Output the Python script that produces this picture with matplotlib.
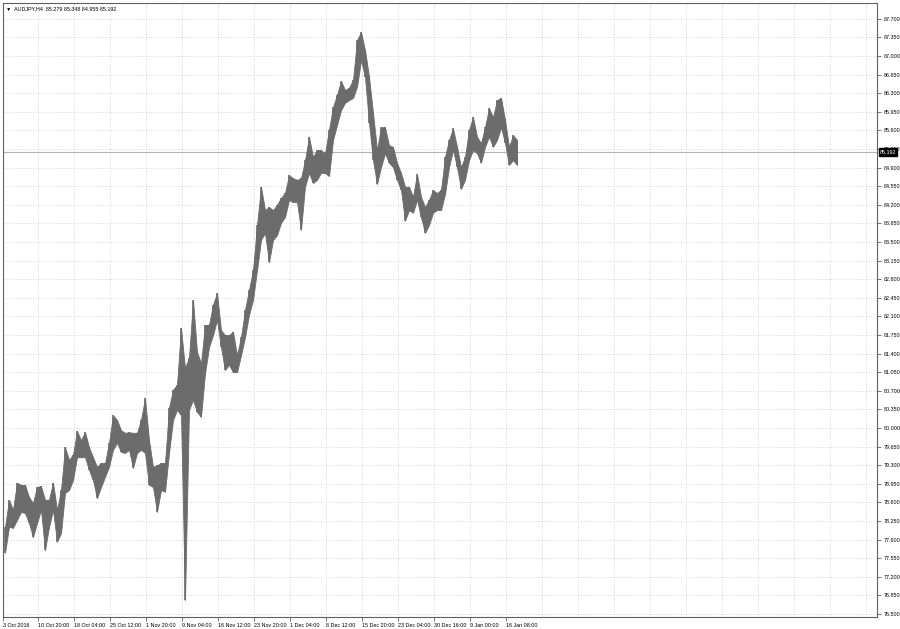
import matplotlib
matplotlib.use("Agg")
import matplotlib.pyplot as plt
import matplotlib.transforms as mtransforms
import numpy as np

# AUDJPY H4, values (each entry = a group of 4 H4 bars)
symbol = "AUDJPY,H4"
last_ohlc = [85.279, 85.348, 84.955, 85.192]

highs = [78.14, 78.65, 78.46, 78.97, 78.93, 78.93, 78.70, 78.59, 78.89, 78.91,
         78.65, 78.65, 78.97, 78.46, 78.83, 79.64, 79.40, 79.50, 79.94, 79.77,
         79.92, 79.64, 79.45, 79.27, 79.34, 79.34, 79.72, 80.24, 80.15, 79.96,
         79.91, 79.92, 79.91, 79.91, 80.15, 80.56, 79.77, 79.27, 79.30, 79.34,
         79.34, 80.38, 80.72, 80.81, 81.88, 81.13, 81.32, 82.41, 81.43, 81.22,
         81.94, 81.94, 82.32, 82.54, 81.84, 81.75, 81.75, 81.81, 81.37, 81.71,
         82.22, 82.60, 82.97, 83.82, 84.54, 84.10, 84.16, 84.10, 84.20, 84.33,
         84.42, 84.76, 84.70, 84.67, 84.70, 85.04, 85.48, 85.10, 85.23, 85.23,
         85.17, 85.61, 86.04, 86.27, 86.53, 86.36, 86.40, 86.55, 87.30, 87.45,
         87.11, 86.61, 85.93, 85.23, 85.66, 85.66, 85.32, 85.29, 84.99, 84.80,
         84.54, 84.54, 84.35, 84.78, 84.35, 84.16, 84.29, 84.48, 84.42, 84.48,
         85.10, 85.42, 85.64, 85.29, 84.91, 85.10, 85.61, 85.85, 85.48, 85.36,
         85.66, 86.02, 85.85, 86.17, 86.21, 85.80, 85.29, 85.51, 85.42]
lows = [77.65, 78.14, 78.12, 78.27, 78.42, 78.40, 78.21, 77.95, 78.21, 78.46,
        77.70, 78.14, 78.46, 77.86, 78.02, 78.78, 78.83, 79.02, 79.45, 79.45,
        79.45, 79.21, 79.02, 78.68, 78.89, 79.08, 79.27, 79.59, 79.72, 79.55,
        79.53, 79.59, 79.25, 79.53, 79.59, 79.53, 78.93, 78.89, 78.42, 78.83,
        78.80, 79.53, 80.15, 80.34, 80.24, 76.76, 80.34, 80.53, 80.30, 80.21,
        81.03, 81.52, 81.75, 82.03, 81.52, 81.09, 81.19, 81.05, 81.05, 81.37,
        81.71, 82.13, 82.41, 82.97, 83.54, 83.67, 83.12, 83.54, 83.63, 83.86,
        83.97, 84.29, 84.25, 84.25, 83.73, 84.54, 84.80, 84.61, 84.67, 84.80,
        84.80, 84.74, 85.42, 85.70, 85.98, 86.12, 86.17, 86.21, 86.42, 86.92,
        86.61, 85.74, 85.04, 84.59, 84.91, 85.17, 84.99, 84.91, 84.67, 84.48,
        83.90, 84.10, 84.05, 84.29, 83.97, 83.67, 83.82, 84.05, 84.10, 84.10,
        84.40, 84.91, 85.23, 84.91, 84.50, 84.67, 85.04, 85.23, 85.17, 84.99,
        85.29, 85.48, 85.29, 85.42, 85.66, 85.36, 84.95, 85.04, 84.95]

date_labels = ["3 Oct 2016", "10 Oct 20:00", "18 Oct 04:00", "25 Oct 12:00",
               "1 Nov 20:00", "9 Nov 04:00", "16 Nov 12:00", "23 Nov 20:00",
               "1 Dec 04:00", "8 Dec 12:00", "15 Dec 20:00", "23 Dec 04:00",
               "30 Dec 16:00", "9 Jan 00:00", "16 Jan 08:00"]

price_ticks = [76.5 + 0.35 * i for i in range(33)]

FONT = ["Liberation Sans", "DejaVu Sans"]
FS = 3.9
BAR = "#6c6c6c"
GRID = dict(color="#c8c8c8", linestyle=(0, (1, 2)), linewidth=0.6, zorder=0)

W, H = 900, 629
fig = plt.figure(figsize=(W / 100, H / 100), dpi=100)
fig.patch.set_facecolor("white")
ax = fig.add_axes([3 / W, 12 / H, 874 / W, 614 / H])

ax.set_xlim(0, 874)
ax.set_ylim(76.4435, 87.997)

# grid
for p in price_ticks:
    ax.axhline(p, **GRID)
for i in range(1, 25):
    ax.axvline(36 * i - 1, **GRID)

# current price line
ax.axhline(last_ohlc[3], color="#b4b4b4", linewidth=0.8, zorder=1)

# price trace: high/low envelope plus a thin bar per group
hi = np.array(highs)
lo = np.array(lows)
centers = np.arange(len(hi)) * 4 + 2
ax.fill_between(centers, lo, hi, color=BAR, linewidth=0.6, edgecolor=BAR, zorder=3)
ax.vlines(centers, lo, hi, color=BAR, linewidth=1.2, zorder=3)

# axes styling
for s in ax.spines.values():
    s.set_color("#606060")
    s.set_linewidth(0.8)

xticks = [max(36 * i - 1, 0) for i in range(len(date_labels))]
ax.set_xticks(xticks)
ax.set_xticklabels(date_labels, fontsize=FS, family=FONT, ha="left")
ax.yaxis.tick_right()
ax.set_yticks(price_ticks)
ax.set_yticklabels(["%.3f" % p for p in price_ticks], fontsize=FS, family=FONT)
ax.tick_params(axis="both", length=3, width=0.6, color="#606060", pad=1.5, labelcolor="black")

# last price tag on the price scale (drawn over the 85.250 label, as in the terminal)
trans = mtransforms.blended_transform_factory(ax.transAxes, ax.transData)
ax.text(1.003, last_ohlc[3], "%.3f" % last_ohlc[3], transform=trans, ha="left", va="center",
        fontsize=FS, family=FONT, color="white", zorder=10, clip_on=False,
        bbox=dict(boxstyle="square,pad=0.2", fc="black", ec="black"))

# header
ax.text(0.004, 0.994, "\u25bc  %s  %.3f %.3f %.3f %.3f" % (symbol, *last_ohlc),
        transform=ax.transAxes, ha="left", va="top", fontsize=FS, family=FONT, color="black")

fig.savefig("out.png", dpi=100)
